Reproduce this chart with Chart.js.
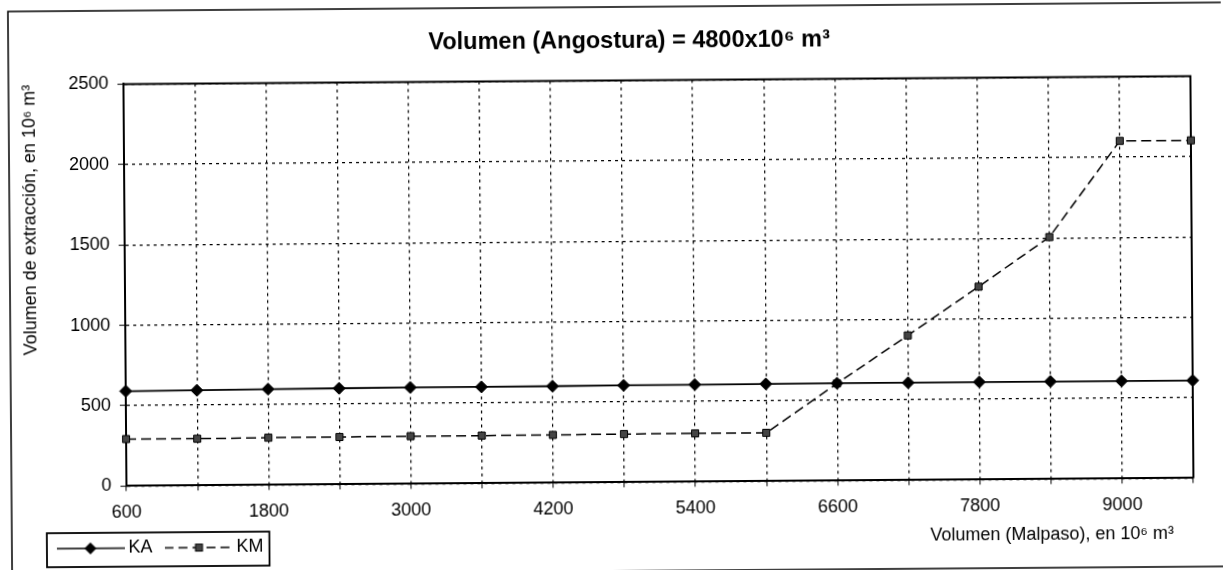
<!DOCTYPE html>
<html>
<head>
<meta charset="utf-8">
<script src="https://cdn.jsdelivr.net/npm/chart.js@4.4.1/dist/chart.umd.min.js"></script>
<style>
html,body{margin:0;padding:0;background:#fff;overflow:hidden;width:1223px;height:570px;}
#c{position:absolute;left:0;top:0;transform:rotate(-0.43deg);transform-origin:611.5px 290px;}
</style>
</head>
<body>
<canvas id="c" width="1223" height="580"></canvas>
<script>
// ---- data ----
const categories = [600, 1200, 1800, 2400, 3000, 3600, 4200, 4800, 5400, 6000, 6600, 7200, 7800, 8400, 9000, 9600];
const kaValues = [590, 592, 596, 598, 600, 600, 601, 603, 604, 605, 606, 606, 607, 607, 607, 607];
const kmValues = [292, 291, 294, 295, 297, 297, 298, 300, 301, 301, 605, 900, 1200, 1505, 2100, 2100];
const yTicks = [0, 500, 1000, 1500, 2000, 2500];
const seriesNames = ['KA', 'KM'];
const chartTitle = 'Volumen (Angostura) = 4800x10\u2076 m\u00B3';
const xTitle = 'Volumen (Malpaso), en 10\u2076 m\u00B3    ';
const yTitle = 'Volumen de extracci\u00F3n, en 10\u2076 m\u00B3';

Chart.defaults.font.family = "'Liberation Sans', Arial, 'DejaVu Sans', sans-serif";
Chart.defaults.color = '#000';

// legend icons (line + marker)
function makeIcon(kind) {
  const cv = document.createElement('canvas');
  cv.width = 68; cv.height = 14;
  const g = cv.getContext('2d');
  g.strokeStyle = '#000';
  g.fillStyle = '#000';
  if (kind === 'KA') {
    g.lineWidth = 1.6;
    g.beginPath(); g.moveTo(0, 7); g.lineTo(68, 7); g.stroke();
    g.beginPath(); g.moveTo(34 - 6, 7); g.lineTo(34, 1); g.lineTo(34 + 6, 7); g.lineTo(34, 13); g.closePath(); g.fill();
  } else {
    g.lineWidth = 1.4;
    g.setLineDash([9, 5]);
    g.beginPath(); g.moveTo(0, 7); g.lineTo(68, 7); g.stroke();
    g.setLineDash([]);
    g.fillStyle = '#444';
    g.fillRect(31, 3.5, 7, 7);
    g.lineWidth = 1; g.strokeRect(31, 3.5, 7, 7);
  }
  return cv;
}
const legendIcons = [makeIcon('KA'), makeIcon('KM')];

const framePlugin = {
  id: 'framePlugin',
  afterLayout(chart) {
    const t = chart.titleBlock;
    if (t) { t.left += 28; t.right += 28; }
    const lg = chart.legend;
    if (lg) {
      const w = lg.right - lg.left, h = lg.bottom - lg.top;
      lg.left = 42.5; lg.right = lg.left + w;
      lg.top = 518.5; lg.bottom = lg.top + h;
    }
  },
  beforeDraw(chart) {
    const ctx = chart.ctx;
    ctx.save();
    ctx.fillStyle = '#fff';
    ctx.fillRect(0, 0, chart.width, chart.height);
    ctx.strokeStyle = '#000';
    ctx.lineWidth = 1.5;
    ctx.strokeRect(10, 7, 1240, 564);
    ctx.restore();
  },
  beforeDatasetsDraw(chart) {
    const a = chart.chartArea, ctx = chart.ctx;
    ctx.save();
    ctx.strokeStyle = '#000';
    ctx.lineWidth = 2;
    ctx.beginPath();
    ctx.moveTo(a.left, a.top);
    ctx.lineTo(a.right, a.top);
    ctx.lineTo(a.right, a.bottom);
    ctx.stroke();
    ctx.restore();
  },
  afterDraw(chart) {
    const lg = chart.legend, ctx = chart.ctx;
    if (!lg || !lg.legendHitBoxes || !lg.legendHitBoxes.length) return;
    const hb = lg.legendHitBoxes;
    const last = hb[hb.length - 1];
    const l = lg.left + 2.5, t = lg.top + 10.5;
    const r = last.left + last.width + 6;
    ctx.save();
    ctx.strokeStyle = '#000';
    ctx.lineWidth = 1.8;
    ctx.strokeRect(l, t, r - l, 34);
    ctx.restore();
  }
};

new Chart(document.getElementById('c'), {
  type: 'line',
  data: {
    labels: categories,
    datasets: [
      {
        label: seriesNames[0],
        data: kaValues,
        borderColor: '#000',
        borderWidth: 1.8,
        pointStyle: 'rectRot',
        pointRadius: 6,
        pointBackgroundColor: '#000',
        pointBorderColor: '#000',
        pointBorderWidth: 1,
        tension: 0,
        clip: false
      },
      {
        label: seriesNames[1],
        data: kmValues,
        borderColor: '#000',
        borderWidth: 1.5,
        borderDash: [10, 5],
        pointStyle: 'rect',
        pointRadius: 5,
        pointBackgroundColor: '#444',
        pointBorderColor: '#000',
        pointBorderWidth: 1,
        tension: 0,
        clip: false
      }
    ]
  },
  options: {
    responsive: false,
    animation: false,
    devicePixelRatio: 1,
    layout: { padding: { top: 10, left: 14, right: 31, bottom: 10 } },
    plugins: {
      tooltip: { enabled: false },
      title: {
        display: true,
        text: chartTitle,
        font: { size: 23.5, weight: 'bold' },
        color: '#000',
        padding: { top: 17.9, bottom: 24.3 }
      },
      legend: {
        display: true,
        position: 'bottom',
        align: 'start',
        maxHeight: 40,
        labels: {
          usePointStyle: true,
          pointStyleWidth: 58,
          padding: 17,
          color: '#000',
          font: { size: 18 },
          generateLabels(chart) {
            const items = Chart.defaults.plugins.legend.labels.generateLabels(chart);
            items.forEach((it, i) => { it.pointStyle = legendIcons[i]; it.fontColor = '#000'; });
            return items;
          }
        }
      }
    },
    scales: {
      x: {
        type: 'category',
        offset: false,
        afterFit(s) { s.height = 47.6; },
        grid: {
          color: '#000',
          lineWidth: 1.2,
          tickLength: 5,
          tickColor: '#000',
          tickWidth: 1
        },
        border: { display: true, color: '#000', width: 2, dash: [3, 4] },
        ticks: {
          autoSkip: false,
          maxRotation: 0,
          padding: 11,
          color: '#000',
          font: { size: 18 },
          callback(val, idx) { return idx % 2 === 0 ? this.getLabelForValue(val) : ''; }
        },
        title: {
          display: true,
          text: xTitle,
          align: 'end',
          color: '#000',
          font: { size: 18 },
          padding: { top: 0, bottom: -19 }
        }
      },
      y: {
        min: yTicks[0],
        max: yTicks[yTicks.length - 1],
        afterFit(s) { s.width = 111; },
        afterBuildTicks(s) { s.ticks = yTicks.map(v => ({ value: v })); },
        grid: {
          color: '#000',
          lineWidth: 1.2,
          tickLength: 6,
          tickColor: '#000',
          tickWidth: 1
        },
        border: { display: true, color: '#000', width: 2, dash: [3, 4] },
        ticks: {
          padding: 9,
          color: '#000',
          font: { size: 18 },
          callback(val) { return String(val); }
        },
        title: {
          display: true,
          text: yTitle,
          align: 'end',
          color: '#000',
          font: { size: 18 },
          padding: { top: 6.2, bottom: 0 }
        }
      }
    }
  },
  plugins: [framePlugin]
});
</script>
</body>
</html>
